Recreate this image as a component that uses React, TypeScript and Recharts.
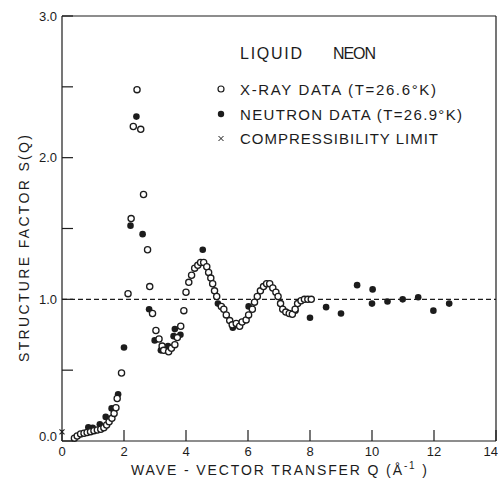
import React from 'react';
import { ScatterChart, Scatter, XAxis, YAxis, ReferenceLine } from 'recharts';

const INK = '#1c1c1c';
const FONT = '"Liberation Sans", Arial, sans-serif';

// X-ray diffraction, T = 26.6 K
const xrayQ = [
  0.4, 0.49, 0.6, 0.71, 0.81, 0.92, 1.03, 1.14, 1.25, 1.35, 1.44, 1.52, 1.61, 1.68, 1.74, 1.78,
  1.92, 2.13, 2.23, 2.3, 2.42, 2.54, 2.63, 2.76, 2.83, 2.92, 3.03, 3.13, 3.23, 3.28, 3.44, 3.53,
  3.64, 3.72, 3.83, 3.93, 4.0, 4.09, 4.18, 4.28, 4.38, 4.47, 4.57, 4.67, 4.73, 4.8, 4.86, 4.92,
  4.99, 5.14, 5.22, 5.3, 5.41, 5.49, 5.62, 5.73, 5.81, 5.94, 6.02, 6.14, 6.21, 6.3, 6.4, 6.5,
  6.6, 6.7, 6.8, 6.9, 6.97, 7.05, 7.12, 7.22, 7.33, 7.43, 7.52, 7.6, 7.71, 7.82, 7.93, 8.04,
];
const xrayS = [
  0.02, 0.035, 0.05, 0.055, 0.06, 0.066, 0.073, 0.078, 0.083, 0.094, 0.113, 0.136, 0.16, 0.195, 0.235, 0.3,
  0.48, 1.04, 1.57, 2.22, 2.48, 2.2, 1.74, 1.35, 1.09, 0.9, 0.78, 0.72, 0.67, 0.64, 0.63, 0.655,
  0.68, 0.73, 0.81, 0.92, 1.05, 1.12, 1.17, 1.22, 1.24, 1.26, 1.26, 1.23, 1.19, 1.15, 1.11, 1.06,
  1.02, 0.95, 0.93, 0.89, 0.85, 0.82, 0.83, 0.81, 0.84, 0.855, 0.89, 0.93, 0.98, 1.02, 1.06, 1.09,
  1.11, 1.11, 1.08, 1.05, 1.02, 0.97, 0.93, 0.91, 0.9, 0.895, 0.93, 0.97, 0.99, 1.0, 1.0, 1.0,
];

// Neutron diffraction, T = 26.9 K
const neutronQ = [
  0.85, 0.99, 1.22, 1.41, 1.6, 1.81, 2.0, 2.21, 2.4, 2.6, 2.81, 2.99, 3.19, 3.42, 3.6, 3.64,
  3.82, 4.54, 5.03, 5.51, 6.02, 7.05, 7.53, 8.0, 8.52, 9.0, 9.52, 10.02, 10.0, 10.5, 10.99, 11.49,
  11.98, 12.49,
];
const neutronS = [
  0.097, 0.094, 0.118, 0.17, 0.23, 0.33, 0.66, 1.52, 2.29, 1.46, 0.93, 0.71, 0.64, 0.67, 0.74, 0.79,
  0.75, 1.35, 0.97, 0.8, 0.95, 0.97, 0.92, 0.87, 0.945, 0.9, 1.1, 1.07, 0.97, 0.985, 1.0, 1.015,
  0.92, 0.97,
];

// S(0) from the isothermal compressibility
const limitQ = [0];
const limitS = [0.065];

const xTicks = [0, 2, 4, 6, 8, 10, 12, 14];
const topTicks = [2, 4, 6, 8, 10, 12];
const yTicks = [0, 0.5, 1, 1.5, 2, 2.5, 3];

const toPoints = (q: number[], s: number[]) => q.map((v, i) => ({ q: v, s: s[i] }));

const xray = toPoints(xrayQ, xrayS);
const neutron = toPoints(neutronQ, neutronS);
const limit = toPoints(limitQ, limitS);

const OpenDot = (p: any) => (
  <circle cx={p.cx} cy={p.cy} r={3.1} fill="#fff" stroke={INK} strokeWidth={1.3} />
);
const FilledDot = (p: any) => <circle cx={p.cx} cy={p.cy} r={3.3} fill={INK} />;
const Cross = (p: any) => (
  <g stroke={INK} strokeWidth={1.1}>
    <line x1={p.cx - 2.5} y1={p.cy - 2.5} x2={p.cx + 2.5} y2={p.cy + 2.5} />
    <line x1={p.cx - 2.5} y1={p.cy + 2.5} x2={p.cx + 2.5} y2={p.cy - 2.5} />
  </g>
);

const labelStyle = { fontFamily: FONT, fontSize: 13, fill: INK };

// tick marks point inward (negative tickSize); tickMargin brings the label anchor back to the axis line
const BottomLabel = (p: any) => {
  const v = p.payload.value;
  return (
    <text x={v === 14 ? p.x + 2 : p.x} y={p.y + 15} textAnchor={v === 14 ? 'end' : 'middle'} {...labelStyle}>
      {v}
    </text>
  );
};

const LeftLabel = (p: any) => {
  const v = p.payload.value;
  if (!Number.isInteger(v)) return <g />;
  return (
    <text x={p.x - 5} y={v === 0 ? p.y - 5 : p.y} dy="0.36em" textAnchor="end" {...labelStyle}>
      {v.toFixed(1)}
    </text>
  );
};

const NoLabel = () => <g />;

const legendText = { fontFamily: FONT, fontSize: 15, fill: INK };
const frame = { stroke: INK, strokeWidth: 1.2 };
const tickStroke = { stroke: INK, strokeWidth: 1.2 };

export default function App() {
  return (
    <div style={{ position: 'absolute', left: 0, top: 0, background: '#fff' }}>
      <ScatterChart width={498} height={478} margin={{ top: 15, right: 0, bottom: 0, left: 0 }}>
        <XAxis
          type="number"
          dataKey="q"
          domain={[0, 14]}
          ticks={xTicks}
          height={37}
          tickSize={-11}
          tickMargin={11}
          tickLine={tickStroke}
          axisLine={frame}
          tick={BottomLabel}
          interval={0}
        />
        <XAxis
          xAxisId="top"
          orientation="top"
          type="number"
          dataKey="q"
          domain={[0, 14]}
          ticks={topTicks}
          height={1}
          tickSize={-12}
          tickMargin={0}
          tickLine={tickStroke}
          axisLine={frame}
          tick={NoLabel}
          interval={0}
        />
        <YAxis
          type="number"
          dataKey="s"
          domain={[0, 3]}
          ticks={yTicks}
          width={62}
          tickSize={-11}
          tickMargin={11}
          tickLine={tickStroke}
          axisLine={frame}
          tick={LeftLabel}
          interval={0}
        />
        <YAxis
          yAxisId="right"
          orientation="right"
          type="number"
          dataKey="s"
          domain={[0, 3]}
          ticks={yTicks}
          width={2}
          tickSize={-10}
          tickMargin={0}
          tickLine={tickStroke}
          axisLine={frame}
          tick={NoLabel}
          interval={0}
        />
        <ReferenceLine y={1} stroke={INK} strokeWidth={1.1} strokeDasharray="5 3" />
        <Scatter data={neutron} shape={FilledDot} isAnimationActive={false} />
        <Scatter data={xray} shape={OpenDot} isAnimationActive={false} />
        <Scatter data={limit} shape={Cross} isAnimationActive={false} />

        {/* key */}
        <text x={240} y={59} {...legendText} fontSize={16} textLength={62} lengthAdjust="spacing">
          LIQUID
        </text>
        <text x={333} y={59} {...legendText} fontSize={16} textLength={43} lengthAdjust="spacing">
          NEON
        </text>
        <circle cx={221} cy={89} r={3} fill="#fff" stroke={INK} strokeWidth={1.2} />
        <text x={240} y={95} {...legendText} textLength={196} lengthAdjust="spacing">
          X-RAY  DATA  (T=26.6°K)
        </text>
        <circle cx={221} cy={114} r={3.2} fill={INK} />
        <text x={240} y={120} {...legendText} textLength={222} lengthAdjust="spacing">
          NEUTRON  DATA  (T=26.9°K)
        </text>
        <g stroke={INK} strokeWidth={1}>
          <line x1={218.5} y1={136} x2={223.5} y2={141} />
          <line x1={218.5} y1={141} x2={223.5} y2={136} />
        </g>
        <text x={240} y={144} {...legendText} textLength={198} lengthAdjust="spacing">
          COMPRESSIBILITY   LIMIT
        </text>

        {/* axis titles */}
        <text x={131} y={475} {...labelStyle} fontSize={14} textLength={296} lengthAdjust="spacing">
          WAVE - VECTOR  TRANSFER  Q (Å
          <tspan dy={-6} fontSize={10}>-1</tspan>
          <tspan dy={6}> )</tspan>
        </text>
        <text
          x={0}
          y={0}
          transform="translate(29 362) rotate(-90)"
          {...labelStyle}
          fontSize={14}
          textLength={227}
          lengthAdjust="spacing"
        >
          STRUCTURE  FACTOR  S(Q)
        </text>
      </ScatterChart>
    </div>
  );
}
